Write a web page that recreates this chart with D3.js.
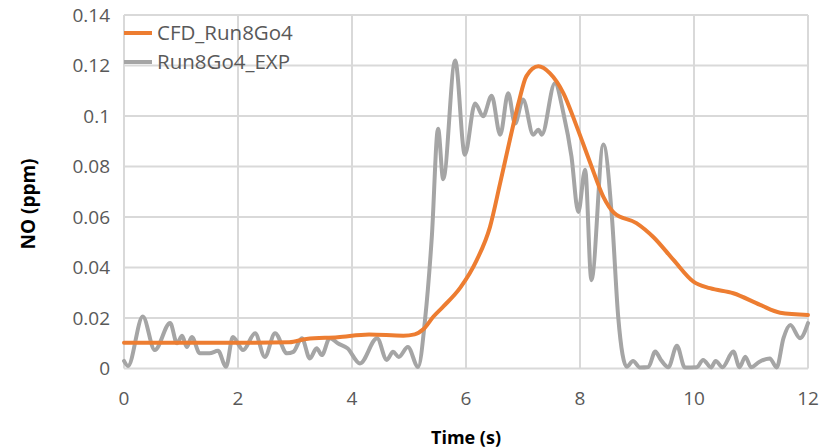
<!DOCTYPE html>
<html>
<head>
<meta charset="utf-8">
<script src="https://cdn.jsdelivr.net/npm/d3@7/dist/d3.min.js"></script>
<style>
  html, body { margin: 0; padding: 0; background: #fff; }
  svg { display: block; }
  text { font-family: "Open Sans", sans-serif; }
</style>
</head>
<body>
<svg id="chart" width="819" height="448"></svg>
<script>
// ---- data ----
const seriesNames = ["CFD_Run8Go4", "Run8Go4_EXP"];
const xTicks = [0, 2, 4, 6, 8, 10, 12];
const yTicks = [0, 0.02, 0.04, 0.06, 0.08, 0.1, 0.12, 0.14];
const yTickLabels = ["0", "0.02", "0.04", "0.06", "0.08", "0.1", "0.12", "0.14"];

const cfdTime = [0, 1, 2, 2.9, 3.2, 3.75, 4.3, 4.9, 5.1, 5.25, 5.43, 5.6, 5.9, 6.19, 6.42, 6.6, 6.77, 6.92, 7.06, 7.27, 7.47, 7.71, 7.94, 8.18, 8.41, 8.6, 8.99, 9.29, 9.64, 9.99, 10.28, 10.69, 11.16, 11.51, 12];
const cfdNO = [0.0102, 0.0102, 0.0102, 0.0104, 0.0117, 0.0124, 0.0135, 0.013, 0.0135, 0.0155, 0.0206, 0.0245, 0.032, 0.043, 0.056, 0.0735, 0.0906, 0.105, 0.1158, 0.1197, 0.117, 0.109, 0.096, 0.0814, 0.068, 0.0616, 0.0576, 0.052, 0.043, 0.0344, 0.0318, 0.0298, 0.0252, 0.0221, 0.0212];

const expTime = [0, 0.07, 0.33, 0.54, 0.81, 0.93, 1.02, 1.1, 1.19, 1.33, 1.5, 1.65, 1.79, 1.91, 2.09, 2.3, 2.47, 2.65, 2.86, 2.97, 3.12, 3.26, 3.38, 3.47, 3.61, 3.75, 3.92, 4.14, 4.44, 4.61, 4.72, 4.82, 4.98, 5.16, 5.28, 5.4, 5.51, 5.6, 5.81, 5.98, 6.16, 6.3, 6.45, 6.6, 6.74, 6.86, 7.0, 7.18, 7.27, 7.33, 7.56, 7.71, 7.85, 7.97, 8.09, 8.2, 8.41, 8.56, 8.67, 8.82, 8.93, 9.05, 9.2, 9.32, 9.42, 9.55, 9.7, 9.84, 10.05, 10.16, 10.3, 10.38, 10.5, 10.69, 10.8, 10.9, 11.0, 11.15, 11.33, 11.45, 11.57, 11.69, 11.86, 12];
const expNO = [0.003, 0.001, 0.0206, 0.0073, 0.018, 0.010, 0.013, 0.0085, 0.0125, 0.006, 0.006, 0.007, 0.0007, 0.0125, 0.0073, 0.014, 0.0046, 0.014, 0.006, 0.0066, 0.012, 0.004, 0.008, 0.0053, 0.012, 0.010, 0.008, 0.002, 0.012, 0.0034, 0.0066, 0.0046, 0.0085, 0.0006, 0.019, 0.052, 0.095, 0.075, 0.122, 0.0847, 0.105, 0.0999, 0.108, 0.0926, 0.109, 0.097, 0.1065, 0.0926, 0.0946, 0.0926, 0.113, 0.101, 0.084, 0.062, 0.0787, 0.035, 0.0887, 0.060, 0.0205, 0.0007, 0.003, 0.0004, 0.0006, 0.0067, 0.0034, 0.0005, 0.009, 0.0004, 0.0005, 0.0034, 0.0004, 0.003, 0.0005, 0.0067, 0.0005, 0.0047, 0.0005, 0.0027, 0.004, 0.0004, 0.012, 0.0172, 0.012, 0.018];

// ---- layout ----
const svg = d3.select("#chart");
const x = d3.scaleLinear().domain([0, 12]).range([124, 808]);
const y = d3.scaleLinear().domain([0, 0.14]).range([368.5, 15]);

const gridColor = "#d9d9d9";
const textColor = "#595959";

// horizontal gridlines
svg.append("g").selectAll("line").data(yTicks).join("line")
  .attr("x1", x(0)).attr("x2", x(12))
  .attr("y1", d => y(d)).attr("y2", d => y(d))
  .attr("stroke", gridColor).attr("stroke-width", 2);
// vertical gridlines
svg.append("g").selectAll("line").data(xTicks).join("line")
  .attr("y1", y(0)).attr("y2", y(0.14))
  .attr("x1", d => x(d)).attr("x2", d => x(d))
  .attr("stroke", gridColor).attr("stroke-width", 2);

// y tick labels
svg.append("g").selectAll("text").data(yTicks).join("text")
  .attr("x", 110).attr("y", d => y(d))
  .attr("dy", "0.36em")
  .attr("text-anchor", "end")
  .attr("font-size", 19)
  .attr("fill", textColor)
  .text((d, i) => yTickLabels[i]);

// x tick labels
svg.append("g").selectAll("text").data(xTicks).join("text")
  .attr("x", d => x(d)).attr("y", 405)
  .attr("text-anchor", "middle")
  .attr("font-size", 19)
  .attr("fill", textColor)
  .text(d => d);

// axis titles
svg.append("text")
  .attr("transform", "translate(35," + 204 + ") rotate(-90)")
  .attr("text-anchor", "middle")
  .attr("font-size", 19).attr("font-weight", "bold")
  .attr("fill", "#000")
  .text("NO (ppm)");
svg.append("text")
  .attr("x", 466).attr("y", 444)
  .attr("text-anchor", "middle")
  .attr("font-size", 18).attr("font-weight", "bold")
  .attr("fill", "#000")
  .text("Time (s)");

// lines
const line = d3.line().x(d => x(d[0])).y(d => y(d[1])).curve(d3.curveMonotoneX);
const cfdPts = cfdTime.map((t, i) => [t, cfdNO[i]]);
const expPts = expTime.map((t, i) => [t, expNO[i]]);

svg.append("path").datum(expPts)
  .attr("d", line).attr("fill", "none")
  .attr("stroke", "#a5a5a5").attr("stroke-width", 4)
  .attr("stroke-linejoin", "round").attr("stroke-linecap", "round");
svg.append("path").datum(cfdPts)
  .attr("d", line).attr("fill", "none")
  .attr("stroke", "#ed7d31").attr("stroke-width", 4)
  .attr("stroke-linejoin", "round").attr("stroke-linecap", "round");

// legend
const legendColors = ["#ed7d31", "#a5a5a5"];
const lg = svg.append("g").selectAll("g").data(seriesNames).join("g")
  .attr("transform", (d, i) => "translate(124," + (33 + i * 29) + ")");
lg.append("line").attr("x1", 0).attr("x2", 28).attr("y1", 0).attr("y2", 0)
  .attr("stroke", (d, i) => legendColors[i]).attr("stroke-width", 4);
lg.append("text").attr("x", 33).attr("y", 0).attr("dy", "0.36em")
  .attr("font-size", 20.5).attr("fill", textColor)
  .text(d => d);
</script>
</body>
</html>
